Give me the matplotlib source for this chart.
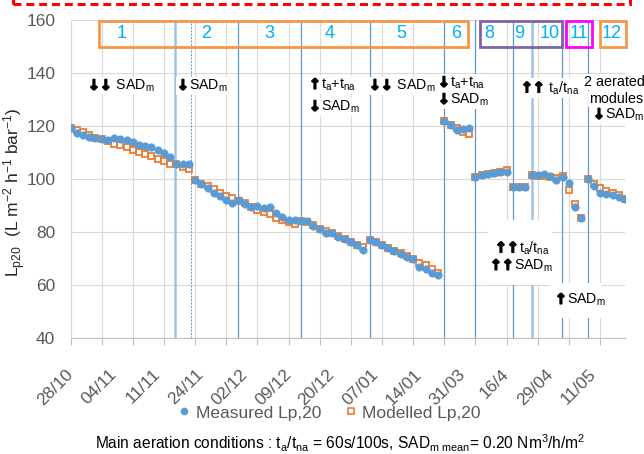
import matplotlib
matplotlib.use('Agg')
import matplotlib.pyplot as plt
import numpy as np
from matplotlib.patches import Rectangle
from matplotlib.lines import Line2D
from matplotlib.offsetbox import TextArea, HPacker, AnnotationBbox
import matplotlib.patheffects as pe

plt.rcParams['font.family'] = ['Liberation Sans', 'DejaVu Sans']
plt.rcParams['mathtext.fontset'] = 'custom'
plt.rcParams['mathtext.rm'] = 'Liberation Sans'
plt.rcParams['mathtext.it'] = 'Liberation Sans'
plt.rcParams['mathtext.bf'] = 'Liberation Sans:bold'

# ---------------- data ----------------
measured = [119.4, 117.3, 116.9, 116.0, 115.4, 115.3, 115.0, 115.6, 115.3, 114.7,
            114.2, 113.1, 112.5, 112.3, 111.0, 110.0, 108.5, 105.9, 105.8, 105.6,
            99.6, 98.2, 96.8, 94.8, 93.7, 92.3, 91.0, 92.3, 90.6, 89.5,
            89.8, 89.3, 89.5, 87.3, 85.9, 84.8, 84.5, 84.1, 84.2, 82.5,
            81.3, 79.6, 79.6, 78.4, 77.3, 76.2, 75.1, 73.3, 77.1, 76.4,
            75.1, 74.1, 73.0, 72.0, 70.8, 69.8, 66.9, 66.2, 64.8, 63.9,
            121.9, 120.5, 118.6, 119.1, 119.3, 100.8, 101.5, 101.9, 102.4, 102.8,
            102.6, 97.1, 97.0, 97.0, 101.5, 101.5, 101.9, 101.1, 99.9, 101.0,
            98.7, 89.5, 85.5, 100.2, 97.5, 95.0, 94.3, 94.1, 93.5, 92.5]
modelled = [119.4, 118.5, 117.7, 116.9, 115.6, 115.3, 114.4, 113.5, 113.1, 112.3,
            111.2, 110.2, 109.4, 108.7, 107.7, 106.8, 105.9, 105.9, 104.7, 103.7,
            99.6, 98.4, 97.4, 96.2, 94.8, 93.8, 92.8, 92.0, 90.9, 89.6,
            88.6, 87.6, 86.8, 85.4, 84.7, 83.8, 83.0, 84.3, 83.8, 82.7,
            81.4, 80.5, 79.7, 78.5, 77.3, 76.3, 75.3, 74.3, 77.1, 76.4,
            75.2, 74.2, 73.1, 72.3, 71.1, 70.1, 68.4, 67.6, 66.0, 64.7,
            121.9, 120.5, 119.2, 118.0, 117.2, 100.8, 101.5, 101.9, 102.4, 102.9,
            103.4, 97.1, 97.0, 97.0, 101.5, 101.3, 101.3, 101.0, 100.6, 101.2,
            95.8, 90.8, 85.5, 100.2, 98.3, 96.7, 95.7, 94.9, 94.0, 92.5]
tick_labels = ['28/10', '04/11', '11/11', '24/11', '02/12', '09/12', '20/12',
               '07/01', '14/01', '31/03', '16/4', '29/04', '11/05']
label_step = 7
tick_step = 5
# phase-change lines (category axis units) and their style
phase_lines = [16.8, 19.35, 26.95, 37.05, 48.0, 60.0, 65.0, 71.1, 74.05, 78.95, 83.0]
phase_kinds = ['thick', 'dotted', 'thin', 'thin', 'thin', 'thin', 'thin', 'thin', 'thick', 'thin', 'thin']
phase_names = ['1', '2', '3', '4', '5', '6', '8', '9', '10', '11', '12']

W, H = 644, 454
fig = plt.figure(figsize=(W / 100, H / 100), dpi=100)
fx = lambda px: px / W
fy = lambda py: 1 - py / H

ax_l, ax_r, ax_t, ax_b = 70.5, 625, 20.3, 338.3
ax = fig.add_axes([fx(ax_l), fy(ax_b), fx(ax_r) - fx(ax_l), fy(ax_t) - fy(ax_b)])
ax.xaxis.remove_overlapping_locs = False

x = np.arange(len(measured))
grey = '#595959'
gridc = '#d9d9d9'

ax.set_xlim(0, len(measured) - 1)
ax.set_ylim(40, 160)
ax.set_yticks(np.arange(40, 161, 20))
ax.set_xticks(np.arange(0, len(measured), tick_step))
ax.set_xticks(np.arange(0, len(measured), label_step)[:len(tick_labels)], minor=True)
ax.set_xticklabels([], minor=False)
ax.set_xticklabels(tick_labels, minor=True, rotation=45, ha='right', va='center',
                   rotation_mode='anchor', fontsize=12.5, color=grey)
ax.tick_params(axis='x', which='major', length=5, width=0.8, color='#bfbfbf', direction='out')
ax.tick_params(axis='x', which='minor', length=0, pad=24)
ax.tick_params(axis='y', length=0, pad=11, labelsize=12.5, labelcolor=grey)
ax.grid(True, which='major', color=gridc, linewidth=0.8)
ax.set_axisbelow(True)
for s in ['top', 'right']:
    ax.spines[s].set_visible(False)
ax.spines['left'].set_color(gridc)
ax.spines['left'].set_linewidth(0.8)
ax.spines['bottom'].set_color('#bfbfbf')
ax.spines['bottom'].set_linewidth(0.8)

for xv, kind in zip(phase_lines, phase_kinds):
    if kind == 'thick':
        ax.axvline(xv, color='#9dc3e6', lw=1.8, zorder=1.5)
    elif kind == 'dotted':
        ax.axvline(xv, color='#5b9bd5', lw=0.7, ls=(0, (2, 1.5)), zorder=1.5)
    else:
        ax.axvline(xv, color='#5b9bd5', lw=0.9, zorder=1.5)

ax.plot(x, modelled, ls='none', marker='s', ms=4.8, mfc='none', mec='#ed7d31', mew=1.3, zorder=3)
ax.plot(x, measured, ls='none', marker='o', ms=5.3, mfc='#5b9bd5', mec='#5b9bd5', mew=0.5, zorder=4)

ax.set_ylabel('L$_{\\mathrm{p20}}$  (L m$^{\\mathrm{-2}}$ h$^{\\mathrm{-1}}$ bar$^{\\mathrm{-1}}$)',
              fontsize=12.5, color='#262626', va='center')
ax.yaxis.set_label_coords((15 - ax_l) / (ax_r - ax_l), (ax_b - 192) / (ax_b - ax_t))

# ---- phase boxes ----
def fig_rect(x0, y0, x1, y1, color, lw=2.0, ls='-'):
    r = Rectangle((fx(x0), fy(y1)), fx(x1) - fx(x0), fy(y0) - fy(y1), transform=fig.transFigure,
                  fill=False, edgecolor=color, lw=lw, ls=ls, zorder=5)
    fig.add_artist(r)

fig_rect(98.5, 20.5, 467.5, 46.5, '#f79646')
fig_rect(480.5, 20.5, 562, 46.5, '#8064a2')
fig_rect(566, 20.5, 592.5, 46.5, '#ff00ff')
fig_rect(599.5, 20.5, 625.5, 46.5, '#f79646')
# red dashed frame at top
fig_rect(13, -20, 630, 4, '#ff0000', lw=2.2, ls=(0, (2.6, 1.6)))

name_px = [121.5, 206.5, 269.5, 330, 401, 456, 489, 519, 550, 578.5, 611.5]
for nm, px in zip(phase_names, name_px):
    fig.text(fx(px), fy(34), nm, color='#00b0f0', fontsize=13, ha='center', va='center', zorder=6)

# ---- annotations ----
SADm = 'SAD$_{\\mathrm{m}}$'
TAN_P = 't$_{\\mathrm{a}}$+t$_{\\mathrm{na}}$'
TAN_R = 't$_{\\mathrm{a}}$/t$_{\\mathrm{na}}$'
thick = [pe.withStroke(linewidth=1.1, foreground='black')]


def note(px, py, arrows, rest, fs=10.2, afs=10.2, pad=0.06):
    kids = []
    if arrows:
        kids.append(TextArea(arrows, textprops=dict(fontsize=afs, fontweight='bold',
                                                    family='DejaVu Sans', color='black',
                                                    path_effects=thick)))
    kids.append(TextArea(rest, textprops=dict(fontsize=fs, color='black')))
    box = HPacker(children=kids, align='baseline', pad=0, sep=0)
    ab = AnnotationBbox(box, (fx(px), fy(py)), xycoords='figure fraction', box_alignment=(0, 0.5),
                        frameon=True, pad=pad, annotation_clip=False,
                        bboxprops=dict(facecolor='white', edgecolor='none'))
    ab.set_zorder(6)
    fig.add_artist(ab)


# white backgrounds for the lower boxes
fig.add_artist(Rectangle((fx(488), fy(285)), fx(552) - fx(488), fy(220) - fy(285),
                         transform=fig.transFigure, facecolor='white', edgecolor='none', zorder=5))
fig.add_artist(Rectangle((fx(550), fy(318)), fx(602) - fx(550), fy(283) - fy(318),
                         transform=fig.transFigure, facecolor='white', edgecolor='none', zorder=5))

note(88, 86, '↓↓', ' ' + SADm)
note(177, 86, '↓', SADm)
note(309, 85, '↑', TAN_P)
note(309, 107, '↓', SADm)
note(369, 86, '↓↓', ' ' + SADm)
note(438, 83, '↓', TAN_P)
note(438, 100, '↓', SADm)
note(521, 88, '↑↑', ' ' + TAN_R)
note(584, 82, '', '2 aerated', fs=10.3)
note(589, 99, '', 'modules', fs=10.3)
note(593, 115, '↓', SADm, fs=10.3, afs=10.3)
note(495, 248, '↑↑', TAN_R)
note(490, 266, '↑↑', SADm)
note(555, 300, '↑', SADm)

# ---- legend ----
h1 = Line2D([], [], ls='none', marker='o', ms=4.5, mfc='#5b9bd5', mec='#5b9bd5')
h2 = Line2D([], [], ls='none', marker='s', ms=4.8, mfc='none', mec='#ed7d31', mew=1.2)
fig.legend([h1, h2], ['Measured Lp,20', 'Modelled Lp,20'], loc='center',
           bbox_to_anchor=(fx(328), fy(413)), ncol=2, frameon=False, fontsize=12.5,
           labelcolor=grey, handletextpad=0.15, columnspacing=1.2, handlelength=1.0)

fig.text(fx(340), fy(443),
         'Main aeration conditions : t$_{\\mathrm{a}}$/t$_{\\mathrm{na}}$ = 60s/100s, '
         'SAD$_{\\mathrm{m\\ mean}}$= 0.20 Nm$^{\\mathrm{3}}$/h/m$^{\\mathrm{2}}$',
         fontsize=11.2, color='black', ha='center', va='center')

fig.savefig('out.png', dpi=100)
